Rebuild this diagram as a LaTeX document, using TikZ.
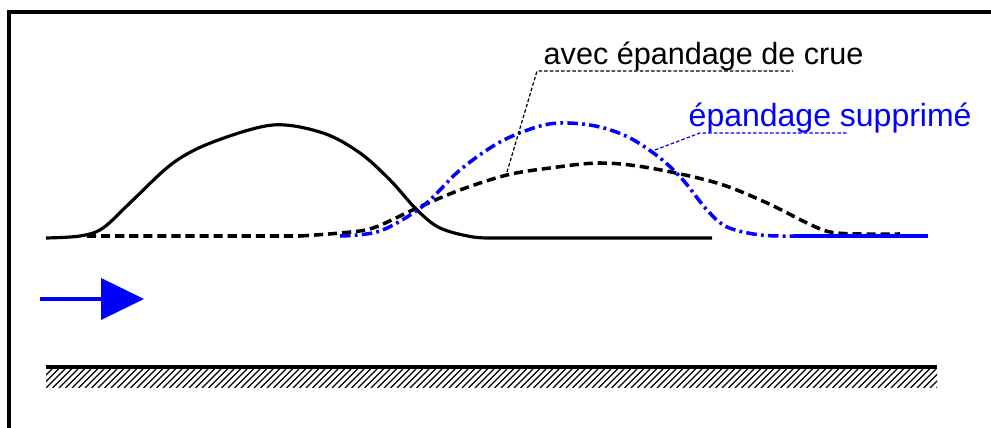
\documentclass[tikz,border=0pt]{standalone}
\usepackage{fontspec}
\setmainfont{Liberation Sans}
\definecolor{crueblue}{RGB}{0,0,255}

\begin{document}
\begin{tikzpicture}[x=0.01cm, y=-0.01cm,
    hydro/.style={line width=0.9pt, line join=round},
    avecepand/.style={line width=1pt, dash pattern=on 2.6pt off 1.4pt},
    sansepand/.style={line width=1pt, crueblue, dash pattern=on 3pt off 1.2pt on 0.8pt off 1.2pt},
    leader/.style={line width=0.35pt, dash pattern=on 1pt off 0.6pt},
    etiquette/.style={inner sep=0pt, anchor=base west, font=\fontsize{8.7}{10}\selectfont}]
  \useasboundingbox (0,0) rectangle (991,428);

  % Frame (cut on the right and at the bottom)
  \draw[line width=1.1pt] (9,428) -- (9,12) -- (991,12);

  % Hydrogramme amont
  \draw[hydro] plot[smooth, tension=0.55] coordinates {(46,238) (80,236) (103,228) (133,200) (173,163)
    (213,142) (273,125) (323,133) (360,153) (390,180) (417,210) (440,228) (473,237) (500,238)}
    -- (712,238);

  % Avec epandage de crue
  \draw[avecepand] (87,236) -- (300,236) plot[smooth, tension=0.55] coordinates {(300,236) (340,233) (373,228)
    (417,208) (460,190) (507,175) (550,168) (600,163) (650,168) (717,183) (767,203) (807,223)
    (830,232) (860,234) (900,234)};

  % Epandage supprime
  \draw[sansepand] plot[smooth, tension=0.55] coordinates {(340,236) (380,231) (423,206) (460,170)
    (500,142) (540,126) (568,123) (600,127) (630,138) (660,158) (683,180) (707,210) (727,227)
    (760,235) (795,236)};
  \draw[crueblue, line width=1.2pt] (795,236) -- (928,236);

  % Labels
  \node[etiquette] (avec) at (543,65) {avec épandage de crue};
  \coordinate (avecpt) at (507,172);
  \draw[leader] (avecpt) -- (537,71) -- (793,71);

  \node[etiquette, crueblue, font=\fontsize{9.1}{11}\selectfont] (supp) at (688,127) {épandage supprimé};
  \coordinate (supppt) at (655,150);
  \draw[leader, crueblue] (supppt) -- (700,133) -- (848,133);

  % Sens d'ecoulement
  \coordinate (flowstart) at (40,299);
  \coordinate (flowend) at (102,299);
  \draw[crueblue, line width=1.4pt] (flowstart) -- (flowend);
  \fill[crueblue] (101,278) -- (144,299) -- (101,320) -- cycle;

  % Fond du lit
  \begin{scope}
    \clip (46,369) rectangle (937,388);
    \foreach \x in {20,26.5,...,960}
      \draw[line width=0.35pt] (\x,388) -- (\x+19,369);
  \end{scope}
  \draw[line width=1.1pt] (46,367) -- (937,367);

\end{tikzpicture}
\end{document}
